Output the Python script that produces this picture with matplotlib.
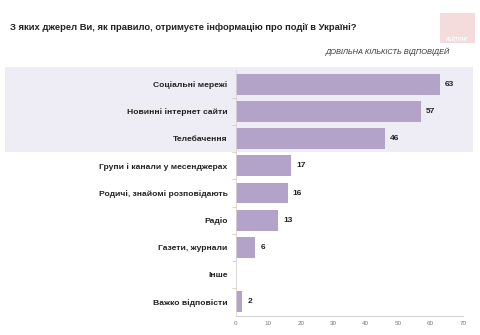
import matplotlib.pyplot as plt
from matplotlib.patches import Rectangle

plt.rcParams['font.family'] = ['Liberation Sans', 'DejaVu Sans']

# data
categories = ['Соціальні мережі', 'Новинні інтернет сайти', 'Телебачення',
              'Групи і канали у месенджерах', 'Родичі, знайомі розповідають',
              'Радіо', 'Газети, журнали', 'Інше', 'Важко відповісти']
values = [63, 57, 46, 17, 16, 13, 6, 0, 2]
value_labels = ['63', '57', '46', '17', '16', '13', '6', '', '2']
xticks = [0, 10, 20, 30, 40, 50, 60, 70]

title = 'З яких джерел Ви, як правило, отримуєте інформацію про події в Україні?'
subtitle = 'ДОВІЛЬНА КІЛЬКІСТЬ ВІДПОВІДЕЙ'

bar_color = '#b3a3c9'
band_color = '#eeecf4'

fig = plt.figure(figsize=(4.8, 3.35), dpi=100)
fig.patch.set_facecolor('white')

# highlighted band behind the top three rows
fig.patches.append(Rectangle((5/480, 1-152/335), 468/480, 85/335,
                             transform=fig.transFigure, facecolor=band_color,
                             edgecolor='none', zorder=-5))

# logo
fig.patches.append(Rectangle((440/480, 1-43/335), 35/480, 30/335,
                             transform=fig.transFigure, facecolor='#f4dcdc',
                             edgecolor='none', zorder=-5))
fig.text(457.5/480, 1-39/335, 'РЕЙТИНГ', color='white', fontsize=3.5,
         fontweight='bold', ha='center', va='center')

ax = fig.add_axes([236/480, 1-315.6/335, 227/480, (315.6-70.4)/335])
ax.set_facecolor('none')

y = range(len(categories))
ax.barh(y, values, height=0.77, color=bar_color, zorder=2)
for i, v in enumerate(values):
    ax.text(v + 1.5, i, value_labels[i], va='center', ha='left',
            fontsize=6, fontweight='bold', color='#222222')

ax.set_xlim(0, 70)
ax.set_ylim(len(categories) - 0.5, -0.5)
ax.set_yticks(list(y))
ax.set_yticklabels(categories, fontsize=6.1, fontweight='bold', color='#222222')
ax.set_yticks([i + 0.5 for i in range(len(categories) - 1)], minor=True)
ax.tick_params(axis='y', which='major', length=0, pad=6)
ax.tick_params(axis='y', which='minor', length=3, color='#cccccc', width=0.6)
ax.set_xticks(xticks)
ax.tick_params(axis='x', length=0, labelsize=4.5, labelcolor='#777777', pad=4)

for s in ['top', 'right']:
    ax.spines[s].set_visible(False)
ax.spines['left'].set_color('#d5d5d5')
ax.spines['left'].set_linewidth(0.6)
ax.spines['bottom'].set_color('#d5d5d5')
ax.spines['bottom'].set_linewidth(0.8)

fig.text(10/480, 1-28/335, title, fontsize=6.75, fontweight='bold',
         color='#222222', ha='left', va='center')
fig.text(450/480, 1-52/335, subtitle, fontsize=5.3, style='italic',
         color='#333333', ha='right', va='center')

fig.savefig('out.png', dpi=100)
